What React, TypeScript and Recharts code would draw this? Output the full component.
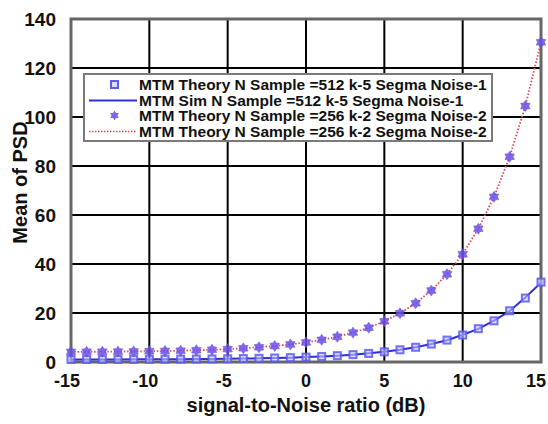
import React from "react";
import {
  ComposedChart,
  Line,
  XAxis,
  YAxis,
  CartesianGrid,
  ReferenceArea,
  Legend,
} from "recharts";

// Signal-to-noise ratio in dB
const snr = [
  -15, -14, -13, -12, -11, -10, -9, -8, -7, -6, -5, -4, -3, -2, -1, 0, 1, 2, 3,
  4, 5, 6, 7, 8, 9, 10, 11, 12, 13, 14, 15,
];

// N = 512, k = 5, noise sigma 1 (theory)
const theory512 = [
  1.03, 1.04, 1.05, 1.06, 1.08, 1.1, 1.13, 1.16, 1.2, 1.25, 1.32, 1.4, 1.5, 1.63,
  1.79, 2.0, 2.26, 2.58, 3.0, 3.51, 4.16, 4.98, 6.01, 7.31, 8.94, 11.0, 13.6,
  16.8, 20.9, 26.1, 32.6,
];

// N = 512, k = 5, noise sigma 1 (simulation)
const sim512 = [
  1.02, 1.05, 1.04, 1.07, 1.08, 1.11, 1.12, 1.17, 1.19, 1.26, 1.31, 1.41, 1.49,
  1.64, 1.78, 2.01, 2.25, 2.6, 2.98, 3.53, 4.14, 5.0, 5.98, 7.34, 8.9, 11.1,
  13.5, 16.9, 20.8, 26.3, 32.4,
];

// N = 256, k = 2, noise sigma 2 (theory)
const theory256 = [
  4.13, 4.16, 4.2, 4.25, 4.32, 4.4, 4.5, 4.63, 4.8, 5.0, 5.26, 5.59, 6.0, 6.52,
  7.18, 8.0, 9.04, 10.3, 12.0, 14.0, 16.6, 19.9, 24.0, 29.2, 35.8, 44.0, 54.4,
  67.4, 83.8, 104.5, 130.5,
];

const xTicks = [-15, -10, -5, 0, 5, 10, 15];
const yTicks = [0, 20, 40, 60, 80, 100, 120, 140];

const legendLabels = [
  "MTM Theory N Sample =512 k-5 Segma Noise-1",
  "MTM Sim N Sample =512 k-5 Segma Noise-1",
  "MTM Theory N Sample =256 k-2 Segma Noise-2",
  "MTM Theory N Sample =256 k-2 Segma Noise-2",
];

const data = snr.map((s, i) => ({
  snr: s,
  theory512: theory512[i],
  sim512: sim512[i],
  theory256: theory256[i],
}));

const FONT = "'Liberation Sans', Arial, sans-serif";
const SQUARE_STROKE = "#5b5bf2";
const SQUARE_FILL = "#c4c4ff";
const STAR_FILL = "#6a4ee6";
const SIM_COLOR = "#2f2fd6";
const DOT_RED = "#e2474f";

const starPoints = (cx: number, cy: number, r: number, ri: number) => {
  const pts: string[] = [];
  for (let k = 0; k < 12; k++) {
    const rad = k % 2 === 0 ? r : ri;
    const a = (Math.PI / 6) * k - Math.PI / 2;
    pts.push(`${cx + rad * Math.cos(a)},${cy + rad * Math.sin(a)}`);
  }
  return pts.join(" ");
};

const SquareDot = (props: any) => {
  const { cx, cy, index } = props;
  if (cx == null || cy == null) return <g key={`sq-${index}`} />;
  return (
    <rect
      key={`sq-${index}`}
      x={cx - 3.5}
      y={cy - 3.5}
      width={7}
      height={7}
      fill={SQUARE_FILL}
      fillOpacity={0.6}
      stroke={SQUARE_STROKE}
      strokeWidth={2}
      strokeOpacity={0.85}
    />
  );
};

const StarDot = (props: any) => {
  const { cx, cy, index } = props;
  if (cx == null || cy == null) return <g key={`st-${index}`} />;
  return (
    <polygon
      key={`st-${index}`}
      points={starPoints(cx, cy, 5.5, 3.4)}
      fill={STAR_FILL}
      fillOpacity={0.85}
      stroke={STAR_FILL}
      strokeOpacity={0.5}
      strokeWidth={1}
    />
  );
};

// X tick labels; the rightmost one is nudged inward so it stays on the canvas
const XTick = (props: any) => {
  const { x, y, payload } = props;
  const v = payload.value;
  const shift = v === 15 ? -5 : v < 0 ? -4 : 0;
  return (
    <text
      x={x + shift}
      y={y}
      dy={13}
      textAnchor="middle"
      fill="#111"
      fontSize={18}
      fontWeight={700}
      fontFamily={FONT}
    >
      {v}
    </text>
  );
};

const LegendBox = () => {
  const rowH = 15.5;
  const icons = [
    <rect x={26} y={4} width={7} height={7} fill={SQUARE_FILL} fillOpacity={0.6} stroke={SQUARE_STROKE} strokeWidth={2} />,
    <line x1={4} y1={7.5} x2={52} y2={7.5} stroke={SIM_COLOR} strokeWidth={2} />,
    <polygon points={starPoints(29.5, 7.5, 5, 3)} fill={STAR_FILL} fillOpacity={0.85} />,
    <line x1={4} y1={7.5} x2={52} y2={7.5} stroke={DOT_RED} strokeWidth={1.5} strokeDasharray="1.5 1.5" />,
  ];
  return (
    <div
      style={{
        width: 406,
        height: 63,
        background: "#fff",
        border: "2px solid #7a7a7a",
        boxSizing: "content-box",
        paddingTop: 2,
        fontFamily: FONT,
      }}
    >
      {legendLabels.map((lab, i) => (
        <div
          key={i}
          style={{
            display: "flex",
            alignItems: "center",
            height: rowH,
            whiteSpace: "nowrap",
          }}
        >
          <svg width={54} height={15} style={{ flex: "none" }}>
            {icons[i]}
          </svg>
          <span
            style={{
              fontSize: 15.5,
              fontWeight: 700,
              color: "#111",
              lineHeight: "15px",
            }}
          >
            {lab}
          </span>
        </div>
      ))}
    </div>
  );
};

export default function App() {
  return (
    <div style={{ position: "absolute", left: 0, top: 0, width: 548, height: 424, background: "#fff" }}>
      <ComposedChart
        width={548}
        height={424}
        data={data}
        margin={{ top: 19, right: 7, left: 0, bottom: 0 }}
      >
        <CartesianGrid stroke="#000" strokeWidth={2} horizontalValues={yTicks} verticalValues={xTicks} />
        <XAxis
          dataKey="snr"
          type="number"
          domain={[-15, 15]}
          ticks={xTicks}
          interval={0}
          height={62}
          tickLine={false}
          axisLine={false}
          tickMargin={6}
          tick={<XTick />}
          label={{
            value: "signal-to-Noise ratio (dB)",
            position: "insideBottom",
            offset: 12,
            fill: "#111",
            fontSize: 20,
            fontWeight: 700,
            fontFamily: FONT,
          }}
        />
        <YAxis
          type="number"
          domain={[0, 140]}
          ticks={yTicks}
          interval={0}
          width={71}
          tickLine={false}
          axisLine={false}
          tickMargin={9}
          tick={{ fill: "#111", fontSize: 19, fontWeight: 700, fontFamily: FONT }}
          label={{
            value: "Mean of PSD",
            angle: -90,
            position: "insideLeft",
            offset: 20,
            dy: -8,
            style: { textAnchor: "middle" },
            fill: "#111",
            fontSize: 20,
            fontWeight: 700,
            fontFamily: FONT,
          }}
        />
        <ReferenceArea
          x1={-15}
          x2={15}
          y1={0}
          y2={140}
          fill="none"
          stroke="#666"
          strokeWidth={3}
          ifOverflow="visible"
        />
        <Line
          dataKey="sim512"
          stroke={SIM_COLOR}
          strokeWidth={2}
          dot={false}
          isAnimationActive={false}
          legendType="none"
        />
        <Line
          dataKey="theory512"
          stroke="none"
          dot={SquareDot}
          activeDot={false}
          isAnimationActive={false}
          legendType="none"
        />
        <Line
          dataKey="theory256"
          stroke={DOT_RED}
          strokeWidth={1.8}
          strokeDasharray="1.5 1.8"
          dot={StarDot}
          activeDot={false}
          isAnimationActive={false}
          legendType="none"
        />
        <Legend
          layout="vertical"
          align="center"
          verticalAlign="middle"
          content={() => <LegendBox />}
          wrapperStyle={{ left: 83, top: 73, width: 410, height: 67 }}
        />
      </ComposedChart>
    </div>
  );
}
